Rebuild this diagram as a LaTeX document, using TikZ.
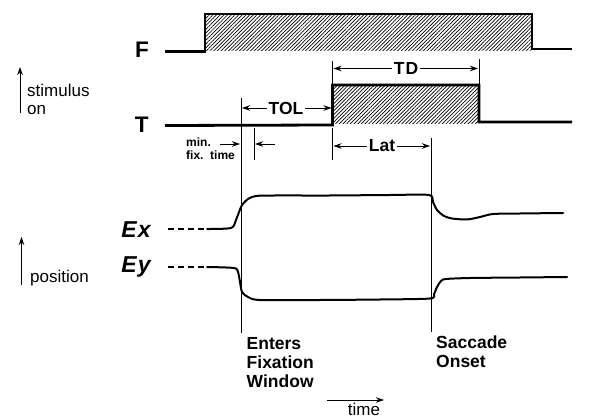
\documentclass[tikz,border=0pt]{standalone}
\usepackage{fontspec}
\setmainfont{Liberation Sans}
\usetikzlibrary{arrows.meta,patterns.meta}
\begin{document}
\begin{tikzpicture}[x=1pt,y=-1pt,
  trace/.style={line width=2.8pt,line join=miter},
  eye/.style={line width=2pt,line cap=round,line join=round},
  thin/.style={line width=0.9pt},
  dim/.style={line width=0.9pt,-{Stealth[length=8pt,width=5.5pt]}},
  hatch/.style={pattern={Lines[angle=45,distance=2.6pt,line width=0.7pt]}},
  lbl/.style={inner sep=0pt,font=\fontsize{22.5}{24}\selectfont\bfseries},
  bl/.style={inner sep=1.5pt,font=\fontsize{17.5}{20}\selectfont\bfseries},
  rl/.style={inner sep=0pt,align=left,font=\fontsize{17}{18}\selectfont},
  sl/.style={inner sep=0pt,align=left,font=\fontsize{12}{13}\selectfont\bfseries},
  evt/.style={inner sep=0pt,align=left,font=\fontsize{17.5}{19}\selectfont\bfseries},
  eyl/.style={inner sep=0pt,font=\fontsize{23}{26}\selectfont\bfseries\itshape}]
\useasboundingbox (0,0) rectangle (591,419);

% F trace
\fill[hatch] (206,15.5) rectangle (531,51);
\draw[trace] (165,51.7) -- (205,51.7) -- (205,14) -- (532,14) -- (532,49) -- (572,49);
\node[lbl] (F) at (142,50) {F};

% T trace
\fill[hatch] (333,86.5) rectangle (478,124);
\draw[trace] (165,125.5) -- (332.5,125) -- (332.5,85) -- (479,85) -- (479,122) -- (572,122);
\node[lbl] (T) at (141.7,124.5) {T};

% stimulus on
\coordinate (sb) at (20,113);
\coordinate (st) at (20,67);
\draw[dim] (sb) -- (st);
\node[rl,anchor=base west] (stim) at (27,115) {stimulus\\on};

% position
\coordinate (pb) at (21.5,285);
\coordinate (pt) at (21.5,237);
\draw[dim] (pb) -- (pt);
\node[rl,anchor=base west] (pos) at (30,283) {position};

% Ex, Ey labels
\node[eyl,anchor=base] (Ex) at (136,238) {E\kern1pt x};
\node[eyl,anchor=base] (Ey) at (136,273) {E\kern1pt y};

% dashed leads
\coordinate (exd0) at (168,229);
\coordinate (exd1) at (207,229);
\coordinate (eyd0) at (168,267);
\coordinate (eyd1) at (207,267);
\draw[eye,line cap=butt,dash pattern=on 6pt off 4pt] (exd0) -- (exd1);
\draw[eye,line cap=butt,dash pattern=on 6pt off 4pt] (eyd0) -- (eyd1);

% Ex trace
\draw[eye] plot[smooth,tension=0.45] coordinates {(207,229) (231,228) (236,220) (241.5,206) (248,199) (256,196) (275,195.5) (330,195.5) (390,195) (429,195) (433,202) (437,210) (444,216) (452,218.5) (467,219.5) (480,217) (493,214) (520,213.5) (563,213)};

% Ey trace
\draw[eye] plot[smooth,tension=0.45] coordinates {(207,267) (234,268) (238,272) (240,282) (242,292) (248,297) (260,300) (320,300) (380,299.5) (430,298.5) (434,294) (437,287) (441,281) (446,279) (470,278) (520,277.5) (567,277)};

% vertical event lines
\coordinate (v1t) at (241,98);
\coordinate (v1b) at (241,333);
\coordinate (v2t) at (431,138);
\coordinate (v2b) at (431,332);
\draw[thin] (v1t) -- (v1b);
\draw[thin] (v2t) -- (v2b);

% TD
\coordinate (tdl) at (332.7,61);
\coordinate (tdlb) at (332.7,86);
\coordinate (tdr) at (479,59);
\coordinate (tdrb) at (479,86);
\draw[thin] (tdl) -- (tdlb);
\draw[thin] (tdr) -- (tdrb);
\node[bl] (TD) at (406,68.5) {T\kern1pt D};
\draw[dim] (TD.west) -- (333.5,68.5);
\draw[dim] (TD.east) -- (478,68.5);

% TOL
\node[bl] (TOL) at (286,108) {TOL};
\draw[dim] (TOL.west) -- (242,108);
\draw[dim] (TOL.east) -- (331.5,108);

% Lat
\coordinate (latt) at (332.7,128);
\coordinate (latb) at (332.7,160);
\draw[thin] (latt) -- (latb);
\node[bl] (Lat) at (382,146) {Lat};
\draw[dim] (Lat.west) -- (333.5,146);
\draw[dim] (Lat.east) -- (430,146);

% min fix time
\node[sl,anchor=base west] (minfix) at (186,160) {min.\\fix.\ \ time};
\coordinate (mt) at (254,128);
\coordinate (mb) at (254,160);
\draw[thin] (mt) -- (mb);
\coordinate (ma0) at (220,144);
\coordinate (ma1) at (240,144);
\coordinate (mb0) at (275,144);
\coordinate (mb1) at (255,144);
\draw[dim] (ma0) -- (ma1);
\draw[dim] (mb0) -- (mb1);

% event labels
\node[evt,anchor=base west] (enter) at (246.5,387) {Enters\\Fixation\\Window};
\node[evt,anchor=base west] (sacc) at (436,367.5) {Saccade\\Onset};

% time
\coordinate (ta0) at (327,400);
\coordinate (ta1) at (384,400);
\draw[dim] (ta0) -- (ta1);
\node[rl,anchor=base] (time) at (364,415) {time};
\end{tikzpicture}
\end{document}
